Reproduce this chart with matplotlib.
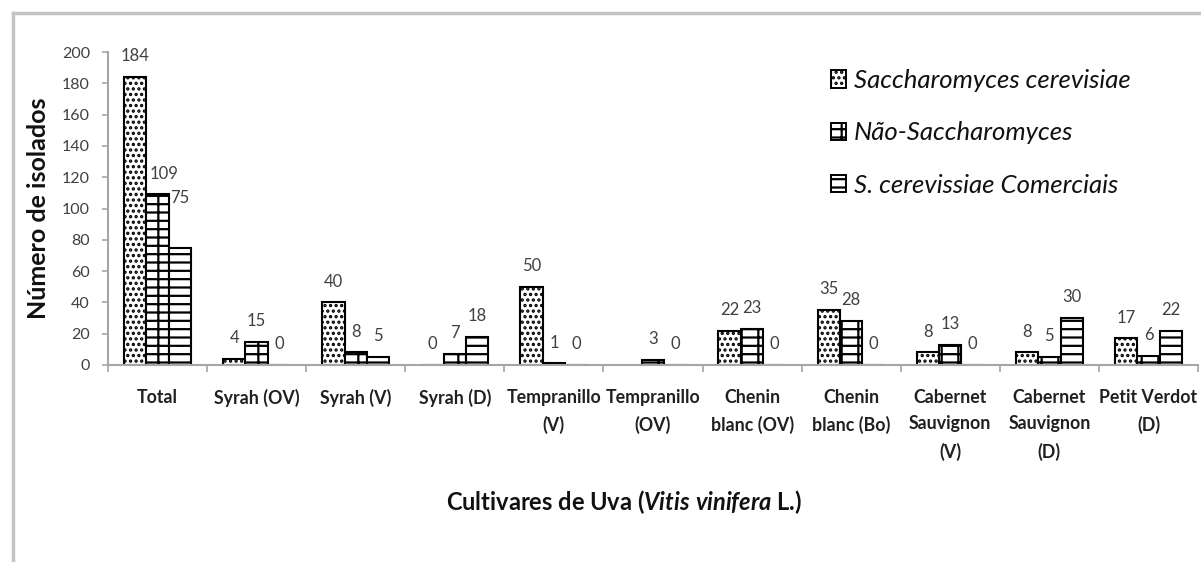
import numpy as np
import matplotlib
matplotlib.use("Agg")
import matplotlib.pyplot as plt
from matplotlib.lines import Line2D
from matplotlib.patches import Patch

plt.rcParams['font.family'] = ['Lato', 'DejaVu Sans']
plt.rcParams['mathtext.fontset'] = 'custom'
plt.rcParams['mathtext.rm'] = 'Lato:bold'
plt.rcParams['mathtext.it'] = 'Lato:italic:bold'
plt.rcParams['hatch.linewidth'] = 1.6

# --- data ---
categories = ['Total', 'Syrah (OV)', 'Syrah (V)', 'Syrah (D)', 'Tempranillo\n(V)',
              'Tempranillo\n(OV)', 'Chenin\nblanc (OV)', 'Chenin\nblanc (Bo)',
              'Cabernet\nSauvignon\n(V)', 'Cabernet\nSauvignon\n(D)', 'Petit Verdot\n(D)']
s_cerevisiae = [184, 4, 40, 0, 50, np.nan, 22, 35, 8, 8, 17]
nao_sacch = [109, 15, 8, 7, 1, 3, 23, 28, 13, 5, 6]
comerciais = [75, 0, 5, 18, 0, 0, 0, 0, 0, 30, 22]
series_names = ['Saccharomyces cerevisiae', 'Não-Saccharomyces', 'S. cerevissiae Comerciais']
hatches = ['...', '+-', '--']

# a couple of data labels were nudged by hand in the original (series, category): (dx, dy) pt
label_nudge = {(1, 0): (5, 0), (2, 0): (0, 21)}

fig = plt.figure(figsize=(12.01, 5.62), dpi=100)
ax = fig.add_axes([108 / 1201, 1 - 365 / 562, 1090 / 1201, 313 / 562])

x = np.arange(len(categories))
w = 0.226
txt_col = '#404040'
for i, (vals, h) in enumerate(zip([s_cerevisiae, nao_sacch, comerciais], hatches)):
    pos = x + (i - 1) * w
    ax.bar(pos, vals, width=w, facecolor='white', edgecolor='black',
           hatch=h, linewidth=1.5)
    for j, (px, v) in enumerate(zip(pos, vals)):
        if np.isnan(v):
            continue
        dx, dy = label_nudge.get((i, j), (0, 0))
        ax.annotate(f'{int(v)}', (px, v), xytext=(dx, 15 + dy), textcoords='offset points',
                    ha='center', va='center', fontsize=12, color=txt_col)

ax.set_xlim(-0.5, len(categories) - 0.5)
ax.set_ylim(0, 200)
ax.set_yticks(range(0, 201, 20))
ax.tick_params(axis='y', labelsize=11.5, labelcolor=txt_col, color='#a6a6a6',
               length=4, width=1.2, pad=9)
ax.set_xticks(x)
ax.set_xticklabels(categories, fontsize=12.8, fontweight='bold', linespacing=1.7)
ax.tick_params(axis='x', length=0, pad=17, labelcolor='#202020')
ax.set_xticks(np.arange(-0.5, len(categories)), minor=True)
ax.tick_params(axis='x', which='minor', length=5, width=1.2, color='#a6a6a6')

for s in ['top', 'right']:
    ax.spines[s].set_visible(False)
for s in ['left', 'bottom']:
    ax.spines[s].set_color('#a6a6a6')
    ax.spines[s].set_linewidth(1.5)

fig.text(0.032, 0.63, 'Número de isolados', rotation=90, ha='center', va='center',
         fontsize=18, fontweight='bold', color='#111111')
fig.text(0.52, 0.107, r'Cultivares de Uva ($\it{Vitis\ vinifera}$ L.)', ha='center',
         va='center', fontsize=17, fontweight='bold', color='#111111')

handles = [Patch(facecolor='white', edgecolor='black', hatch=h, linewidth=1.4)
           for h in hatches]
leg = fig.legend(handles, series_names, loc='upper left',
                 bbox_to_anchor=(0.692, 0.877), frameon=False,
                 prop={'style': 'italic', 'size': 18.5}, labelspacing=1.14,
                 handlelength=0.58, handleheight=0.66, handletextpad=0.3,
                 borderaxespad=0, borderpad=0)
for t in leg.get_texts():
    t.set_color('#111111')

# outer grey frame (top and left only)
fig.add_artist(Line2D([0.0105, 1.0], [0.976, 0.976], color='#c4c4c4', lw=2.5))
fig.add_artist(Line2D([0.0105, 0.0105], [0.0, 0.976], color='#c4c4c4', lw=2.5))

fig.savefig('out.png', dpi=100)
